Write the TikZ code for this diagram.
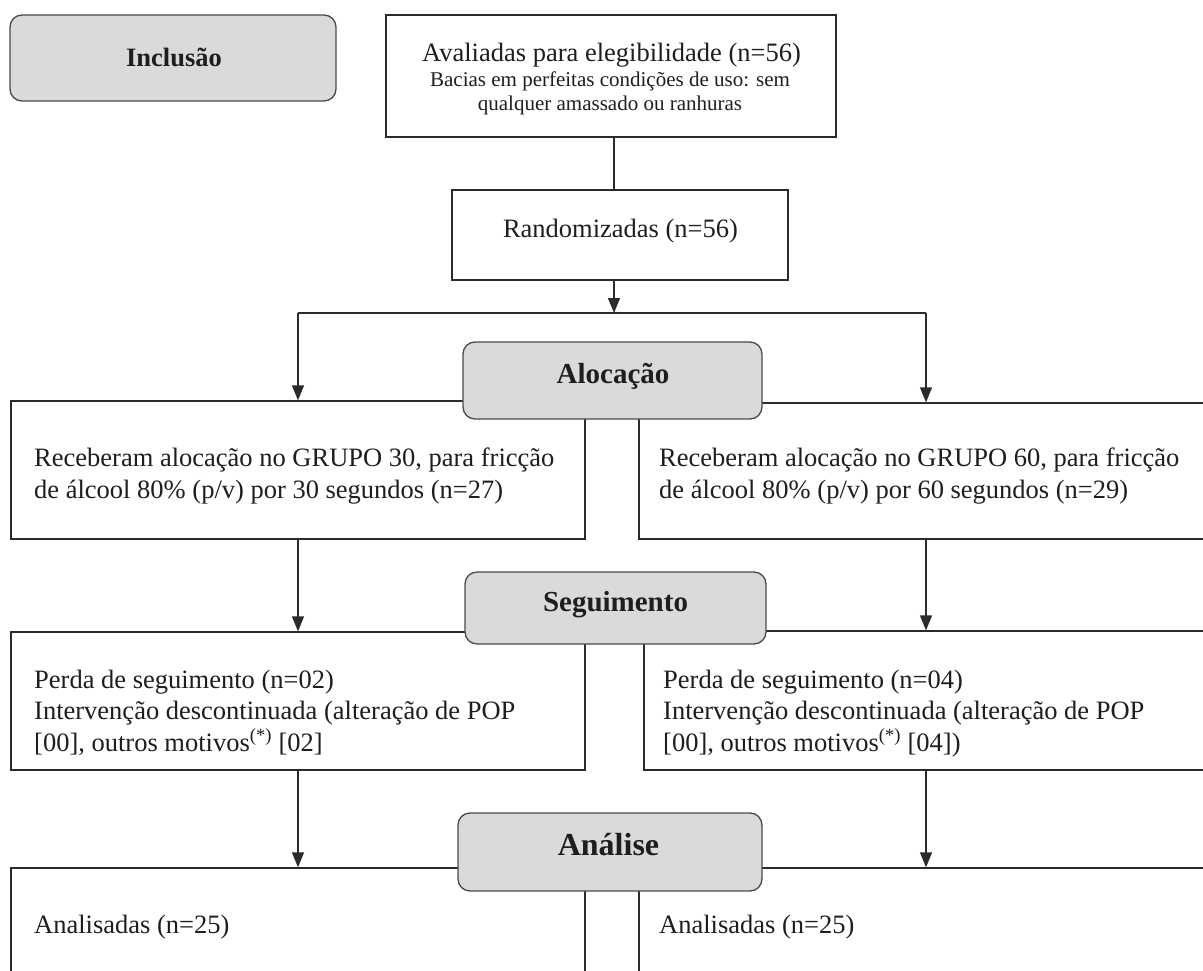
\documentclass[tikz,border=0pt]{standalone}
\usepackage{fontspec}
\setmainfont{Liberation Serif}
\usetikzlibrary{arrows.meta}
\definecolor{linec}{HTML}{2B2B2B}
\definecolor{phasec}{HTML}{4A4A4A}
\definecolor{phasefill}{HTML}{DADADA}
\definecolor{textc}{HTML}{1E1E1E}
\begin{document}
\begin{tikzpicture}[x=1pt,y=-1pt,
  box/.style={draw=linec, line width=1.3pt, fill=white, inner sep=0pt},
  phase/.style={draw=phasec, line width=1.3pt, fill=phasefill, rounded corners=12pt, inner sep=0pt},
  lbl/.style={anchor=base, inner sep=0pt, text=textc, font=\bfseries\fontsize{29}{34}\selectfont},
  txt/.style={anchor=base west, inner sep=0pt, text=textc, font=\fontsize{26.5}{32}\selectfont},
  ctxt/.style={anchor=base, inner sep=0pt, text=textc, font=\fontsize{26.5}{32}\selectfont},
  stxt/.style={anchor=base, inner sep=0pt, text=textc, font=\fontsize{21}{25}\selectfont},
  arr/.style={line width=1.3pt, draw=linec, -{Triangle[width=12pt,length=15pt]}},
  conn/.style={line width=1.3pt, draw=linec}]
\useasboundingbox (0,0) rectangle (1203,971);
\clip (0,0) rectangle (1203,971);
% white boxes
\node[box, minimum width=450pt, minimum height=122pt] (aval) at (611,76) {};
\node[box, minimum width=336pt, minimum height=90pt] (rand) at (620,235) {};
\node[box, minimum width=574pt, minimum height=138pt] (g30) at (298,470) {};
\node[box, minimum width=576pt, minimum height=136pt] (g60) at (927,471) {};
\node[box, minimum width=574pt, minimum height=138pt] (pl) at (298,701) {};
\node[box, minimum width=571pt, minimum height=139pt] (pr) at (929.5,700.5) {};
\node[box, minimum width=574pt, minimum height=122pt] (al) at (298,929) {};
\node[box, minimum width=576pt, minimum height=122pt] (ar) at (927,929) {};
% connectors
\coordinate (split) at (614,313);
\coordinate (sl) at (298,313);
\coordinate (sr) at (926,313);
\draw[conn] ([xshift=3pt]aval.south) -- ([xshift=3pt]aval.south |- rand.north);
\draw[arr] ([xshift=-6pt]rand.south) -- (split);
\draw[conn] (sl) -- (sr);
\draw[arr] (sl) -- (sl |- g30.north);
\draw[arr] (sr) -- (sr |- g60.north);
\draw[arr] (sl |- g30.south) -- (sl |- pl.north);
\draw[arr] (sr |- g60.south) -- (sr |- pr.north);
\draw[arr] (sl |- pl.south) -- (sl |- al.north);
\draw[arr] (sr |- pr.south) -- (sr |- ar.north);
% phase boxes
\node[phase, minimum width=326pt, minimum height=86pt] (incl) at (173,58) {};
\node[phase, minimum width=299pt, minimum height=77pt] (aloc) at (612.5,380.5) {};
\node[phase, minimum width=301pt, minimum height=72pt] (seg) at (615.5,608) {};
\node[phase, minimum width=304pt, minimum height=78pt] (anal) at (610,852) {};
% phase labels
\node[lbl, font=\bfseries\fontsize{26.5}{32}\selectfont] (tincl) at (174,66.7) {Inclusão};
\node[lbl] (taloc) at (613,383) {Alocação};
\node[lbl] (tseg) at (615.5,611.7) {Seguimento};
\node[lbl, font=\bfseries\fontsize{32}{38}\selectfont] (tanal) at (608.5,855) {Análise};
% texts
\node[ctxt] (taval1) at (611.5,61.7) {Avaliadas para elegibilidade (n=56)};
\node[stxt] (taval2) at (610,86.7) {Bacias em perfeitas condições de uso: sem};
\node[stxt] (taval3) at (610,111) {qualquer amassado ou ranhuras};
\node[ctxt] (trand) at (620.5,237) {Randomizadas (n=56)};
\node[txt] (tg30a) at (34,466) {Receberam alocação no GRUPO 30, para fricção};
\node[txt] (tg30b) at (34,498) {de álcool 80\% (p/v) por 30 segundos (n=27)};
\node[txt] (tg60a) at (659,466) {Receberam alocação no GRUPO 60, para fricção};
\node[txt] (tg60b) at (659,498) {de álcool 80\% (p/v) por 60 segundos (n=29)};
\node[txt] (tpla) at (34,688) {Perda de seguimento (n=02)};
\node[txt] (tplb) at (34,719.5) {Intervenção descontinuada (alteração de POP};
\node[txt] (tplc) at (34,751) {[00], outros motivos\textsuperscript{(*)} [02]};
\node[txt] (tpra) at (663,688) {Perda de seguimento (n=04)};
\node[txt] (tprb) at (663,719.5) {Intervenção descontinuada (alteração de POP};
\node[txt] (tprc) at (663,751) {[00], outros motivos\textsuperscript{(*)} [04])};
\node[txt] (tal) at (34,933) {Analisadas (n=25)};
\node[txt] (tar) at (659,933) {Analisadas (n=25)};
\end{tikzpicture}
\end{document}
